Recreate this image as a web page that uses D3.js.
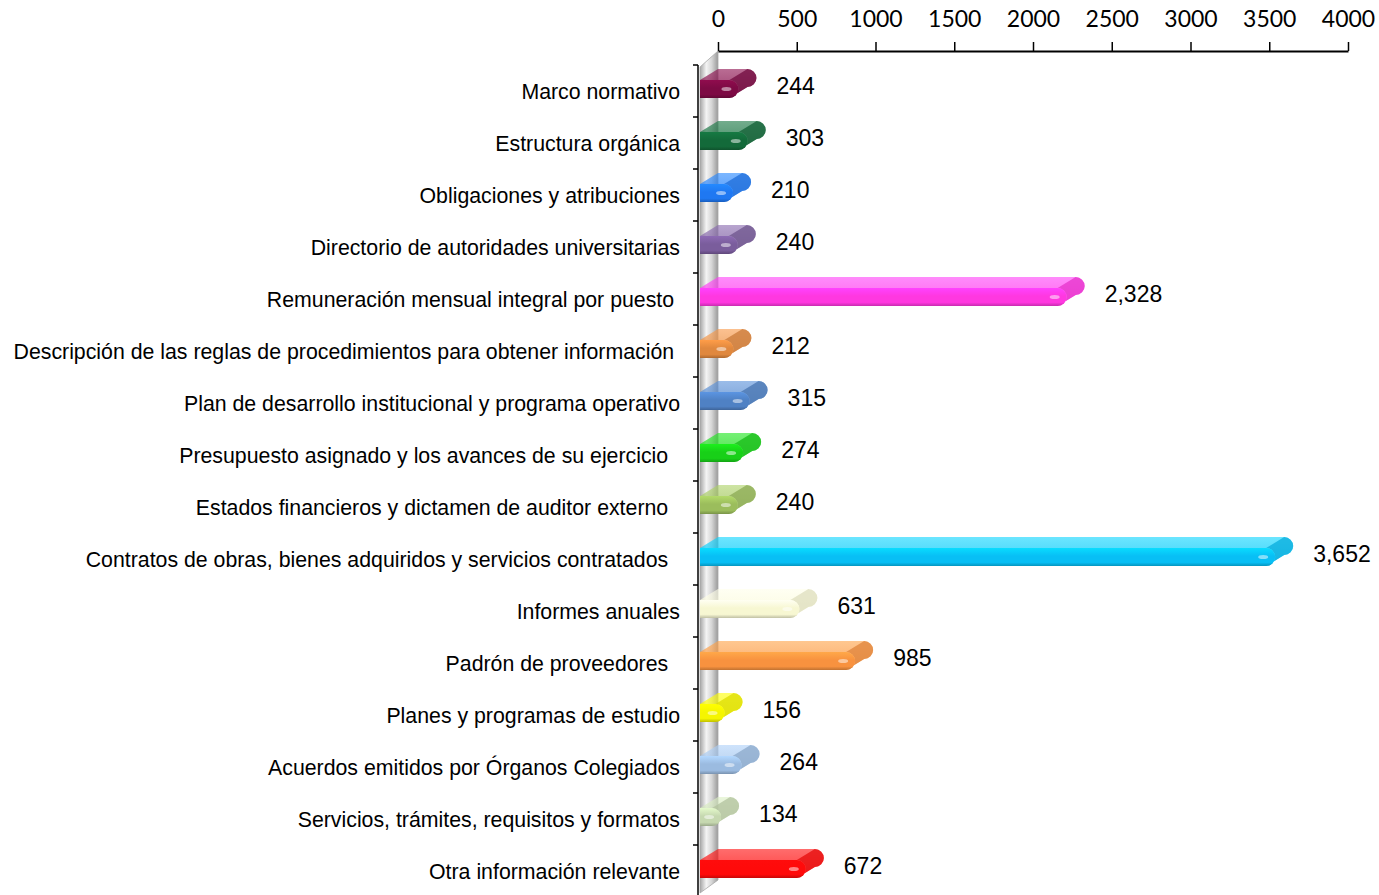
<!DOCTYPE html>
<html>
<head>
<meta charset="utf-8">
<script src="https://cdn.jsdelivr.net/npm/d3@7"></script>
<style>
  html, body { margin: 0; padding: 0; background: #fff; }
  svg { display: block; }
  .cat { white-space: pre; }
</style>
</head>
<body>
<svg id="chart" width="1379" height="895"></svg>
<script>
const categories = [
  "Marco normativo",
  "Estructura orgánica",
  "Obligaciones y atribuciones",
  "Directorio de autoridades universitarias",
  "Remuneración mensual integral por puesto ",
  "Descripción de las reglas de procedimientos para obtener información ",
  "Plan de desarrollo institucional y programa operativo",
  "Presupuesto asignado y los avances de su ejercicio  ",
  "Estados financieros y dictamen de auditor externo  ",
  "Contratos de obras, bienes adquiridos y servicios contratados  ",
  "Informes anuales",
  "Padrón de proveedores  ",
  "Planes y programas de estudio",
  "Acuerdos emitidos por Órganos Colegiados",
  "Servicios, trámites, requisitos y formatos",
  "Otra información relevante"
];
const values = [244, 303, 210, 240, 2328, 212, 315, 274, 240, 3652, 631, 985, 156, 264, 134, 672];
const barColors = [
  "#7d0a44", "#136a3a", "#1f78f2", "#7a5d9c", "#ff38e0", "#e0883e",
  "#4f81c4", "#18d018", "#9bbd5c", "#08bff5", "#f7f7d2", "#f8923f",
  "#f5f500", "#9bbbe0", "#c6d8b0", "#ff0a0a"
];
const tickValues = [0, 500, 1000, 1500, 2000, 2500, 3000, 3500, 4000];

const svg = d3.select("#chart");
const defs = svg.append("defs");

const x = d3.scaleLinear().domain([0, 4000]).range([718, 1348]);
const y = d3.scaleBand().domain(categories).range([65, 897]).paddingInner(0).paddingOuter(0);

const depthX = 18, depthY = 11;
const wallLeft = x(0) - depthX;

// Wall gradient
const wg = defs.append("linearGradient").attr("id", "wallGrad").attr("x1", "0").attr("y1", "0").attr("x2", "1").attr("y2", "0");
wg.append("stop").attr("offset", "0%").attr("stop-color", "#a5a5a5");
wg.append("stop").attr("offset", "35%").attr("stop-color", "#f4f4f4");
wg.append("stop").attr("offset", "65%").attr("stop-color", "#d6d6d6");
wg.append("stop").attr("offset", "100%").attr("stop-color", "#9a9a9a");

// 3D wall
svg.append("path")
  .attr("d", `M${wallLeft},${y.range()[0] + 2} L${x(0)},${51} L${x(0)},${880} L${wallLeft},${893} Z`)
  .attr("fill", "url(#wallGrad)")
  .attr("stroke", "#a8a8a8")
  .attr("stroke-width", 0.8);

// Left (category) axis
const leftAxisX = wallLeft - 2;
svg.append("line")
  .attr("x1", leftAxisX).attr("x2", leftAxisX)
  .attr("y1", y.range()[0]).attr("y2", 895)
  .attr("stroke", "#000").attr("stroke-width", 1.5);
const boundaries = categories.map(c => y(c));
svg.selectAll(".ltick").data(boundaries).join("line")
  .attr("class", "ltick")
  .attr("x1", leftAxisX - 5).attr("x2", leftAxisX)
  .attr("y1", d => d).attr("y2", d => d)
  .attr("stroke", "#000").attr("stroke-width", 1.5);

// Top axis
const axisG = svg.append("g").attr("transform", "translate(0,51)")
  .call(d3.axisTop(x).tickValues(tickValues).tickSize(9).tickPadding(15).tickSizeOuter(0).tickFormat(d3.format("d")));
axisG.select(".domain").attr("stroke", "#000").attr("stroke-width", 1.8);
axisG.selectAll(".tick line").attr("stroke", "#000").attr("stroke-width", 1.5);
axisG.selectAll(".tick text")
  .attr("font-family", "Lato, 'Liberation Sans', sans-serif")
  .attr("font-size", 23)
  .attr("fill", "#000");

// Bars
const barH = 18;
const fmt = d3.format(",");

categories.forEach((cat, i) => {
  const c = d3.color(barColors[i]);
  const g = defs.append("linearGradient").attr("id", "fg" + i).attr("x1", 0).attr("y1", 0).attr("x2", 0).attr("y2", 1);
  g.append("stop").attr("offset", "0%").attr("stop-color", c.brighter(0.4).formatHex());
  g.append("stop").attr("offset", "45%").attr("stop-color", c.formatHex());
  g.append("stop").attr("offset", "80%").attr("stop-color", c.formatHex());
  g.append("stop").attr("offset", "100%").attr("stop-color", c.darker(0.7).formatHex());
  const t = defs.append("linearGradient").attr("id", "tg" + i).attr("x1", 0).attr("y1", 0).attr("x2", 0).attr("y2", 1);
  t.append("stop").attr("offset", "0%").attr("stop-color", c.brighter(0.3).formatHex()).attr("stop-opacity", 0.6);
  t.append("stop").attr("offset", "100%").attr("stop-color", c.formatHex()).attr("stop-opacity", 0.8);
});

const bars = svg.selectAll(".bar").data(categories.map((c, i) => ({ c, v: values[i], i })))
  .join("g").attr("class", "bar");

bars.each(function(d) {
  const g = d3.select(this);
  const b = y(d.c);
  const backTop = b + 4;
  const frontTop = backTop + depthY;
  const xb = x(d.v);
  const xf = xb - depthX;
  const r = barH / 2;
  const topPath = `M${x(0)},${backTop} L${xb - r},${backTop} A${r},${r} 0 0 1 ${xb - r},${backTop + barH}` +
    ` L${xf - r},${frontTop + barH} L${wallLeft},${frontTop + barH} L${wallLeft},${frontTop} Z`;
  g.append("path").attr("d", topPath).attr("fill", `url(#tg${d.i})`);
  g.append("path")
    .attr("d", `M${xb - r},${backTop} A${r},${r} 0 0 1 ${xb - r},${backTop + barH} L${xf - r},${frontTop + barH} A${r},${r} 0 0 0 ${xf - r},${frontTop} Z`)
    .attr("fill", d3.color(barColors[d.i]).darker(0.3).formatHex()).attr("opacity", 0.75);
  g.append("path")
    .attr("d", `M${wallLeft},${frontTop} L${xf - r},${frontTop} A${r},${r} 0 0 1 ${xf - r},${frontTop + barH} L${wallLeft},${frontTop + barH} Z`)
    .attr("fill", `url(#fg${d.i})`);
  g.append("ellipse")
    .attr("cx", xf - r - 3).attr("cy", frontTop + barH * 0.5)
    .attr("rx", 5).attr("ry", 2)
    .attr("fill", "#fff").attr("opacity", 0.5);
  g.append("text")
    .attr("x", xb + 20)
    .attr("y", b + y.bandwidth() / 2 - 3)
    .attr("dominant-baseline", "middle")
    .attr("font-family", "'Liberation Sans', Arial, sans-serif")
    .attr("font-size", 23)
    .attr("fill", "#000")
    .text(fmt(d.v));
});

// Category labels
svg.selectAll(".cat").data(categories).join("text")
  .attr("class", "cat")
  .attr("x", 680)
  .attr("y", d => y(d) + y.bandwidth() / 2 + 2)
  .attr("text-anchor", "end")
  .attr("dominant-baseline", "middle")
  .attr("font-family", "'Liberation Sans', Arial, sans-serif")
  .attr("font-size", 21.3)
  .attr("fill", "#000")
  .text(d => d);
</script>
</body>
</html>
